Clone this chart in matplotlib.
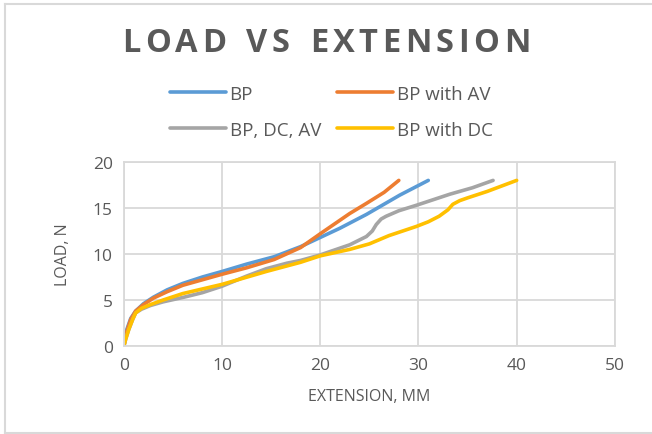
import matplotlib
matplotlib.use("Agg")
from matplotlib import pyplot as plt
from matplotlib.lines import Line2D

plt.rcParams['font.family'] = ['Open Sans', 'DejaVu Sans']

# series (extension mm, load N)
bp_x = [0, 0.3, 0.7, 1.2, 2, 3, 4.4, 6, 8, 10, 12.5, 15.3, 18, 20, 22, 24.7, 28.1, 31]
bp_y = [0, 1.8, 3.0, 3.8, 4.6, 5.3, 6.1, 6.8, 7.5, 8.1, 8.9, 9.7, 10.8, 11.8, 12.8, 14.3, 16.4, 18]

bp_av_x = [0, 0.3, 0.7, 1.2, 2, 3, 4.4, 6, 8, 10, 12.5, 15.3, 18, 20, 21.5, 23, 24.7, 26.5, 28]
bp_av_y = [0, 1.6, 2.9, 3.8, 4.5, 5.2, 5.9, 6.6, 7.2, 7.8, 8.5, 9.4, 10.7, 12.2, 13.3, 14.4, 15.5, 16.7, 18]

bp_dc_av_x = [0, 0.2, 0.5, 0.9, 1.2, 1.8, 2.7, 4, 6.1, 8, 10, 12.5, 14.5, 16.6, 18, 20, 23, 24.7,
              25.3, 25.7, 26.2, 26.7, 28, 29.8, 31.5, 33.2, 35.5, 37.6]
bp_dc_av_y = [0, 0.8, 1.8, 2.9, 3.6, 4.0, 4.4, 4.8, 5.3, 5.8, 6.5, 7.6, 8.4, 9.0, 9.3, 9.9, 11.0, 11.9,
              12.5, 13.2, 13.8, 14.1, 14.7, 15.3, 15.9, 16.5, 17.2, 18]

bp_dc_x = [0, 0.2, 0.5, 0.9, 1.2, 1.8, 2.7, 4, 6, 8, 10, 12.9, 14.5, 16.6, 18, 20, 23, 25, 27,
           29.8, 31, 32.1, 33, 33.5, 34.2, 35, 37, 40]
bp_dc_y = [0, 0.8, 1.8, 2.9, 3.6, 4.1, 4.5, 5.0, 5.7, 6.2, 6.7, 7.6, 8.1, 8.7, 9.1, 9.8, 10.5, 11.1, 12.0,
           13.0, 13.5, 14.1, 14.8, 15.4, 15.8, 16.1, 16.8, 18]

labels = ["BP", "BP with AV", "BP, DC, AV", "BP with DC"]
colors = ['#5B9BD5', '#ED7D31', '#A5A5A5', '#FFC000']
x_ticks = [0, 10, 20, 30, 40, 50]
y_ticks = [0, 5, 10, 15, 20]
title = "LOAD VS EXTENSION"

text_col = '#595959'
grid_col = '#D9D9D9'

fig = plt.figure(figsize=(6.52, 4.35), dpi=100)
ax = fig.add_axes([0.190, 0.2023, 0.753, 0.423])

series = [(bp_x, bp_y), (bp_av_x, bp_av_y), (bp_dc_av_x, bp_dc_av_y), (bp_dc_x, bp_dc_y)]
for (xs, ys), lab, col in zip(series, labels, colors):
	ax.plot(xs, ys, color=col, lw=2.6, label=lab, solid_capstyle='round', solid_joinstyle='round')

ax.set_xlim(0, 50)
ax.set_ylim(0, 20)
ax.set_xticks(x_ticks)
ax.set_yticks(y_ticks)
ax.grid(True, color=grid_col, lw=1.3)
ax.set_axisbelow(True)
for sp in ax.spines.values():
	sp.set_color(grid_col)
	sp.set_linewidth(1.3)
ax.tick_params(length=0, colors=text_col, labelsize=12.5, pad=8)

ax.set_xlabel("EXTENSION, MM", color=text_col, fontsize=11.5, labelpad=11)
ax.set_ylabel("LOAD, N", color=text_col, fontsize=11.5, labelpad=16)

# title with letter spacing: lay out characters one by one
renderer = fig.canvas.get_renderer()
fig_w = fig.get_figwidth() * fig.dpi
track = 4.5  # px added after every character
chars = []
for ch in title:
	t = fig.text(0, 0.900, ch if ch != " " else "\u00a0", fontsize=23.5, fontweight='bold',
		color=text_col, va='center', ha='left')
	w = t.get_window_extent(renderer).width
	if ch == " ":
		w = 11
	chars.append((t, w))
total = sum(w for _, w in chars) + track * (len(chars) - 1)
x = (fig_w - total) / 2
for t, w in chars:
	t.set_x(x / fig_w)
	x += w + track

# legend: Excel order, rows BP / BP with AV, then BP, DC, AV / BP with DC
order = [0, 2, 1, 3]
handles = [Line2D([], [], color=colors[i], lw=2.6, solid_capstyle='round') for i in order]
fig.legend(handles, [labels[i] for i in order], ncol=2, loc='center', bbox_to_anchor=(0.508, 0.741),
	frameon=False, fontsize=13.5, labelcolor=text_col, handlelength=3.0, handletextpad=0.2,
	columnspacing=0.85, labelspacing=0.95)

# chart area border
fig.add_artist(Line2D([0.008, 0.008], [0.002, 0.989], color=grid_col, lw=1.5))
fig.add_artist(Line2D([0.008, 0.999], [0.989, 0.989], color=grid_col, lw=1.5))
fig.add_artist(Line2D([0.008, 0.999], [0.002, 0.002], color=grid_col, lw=1.5))

fig.savefig("out.png", dpi=100)
